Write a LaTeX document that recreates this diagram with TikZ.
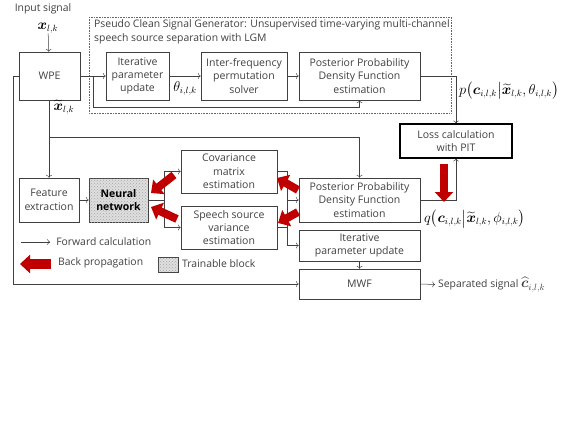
\documentclass[tikz,border=0pt]{standalone}
\usepackage{fontspec}
\setmainfont{Open Sans}
\usepackage{amsmath,bm}
\usetikzlibrary{calc,arrows.meta,patterns}
\definecolor{bp-red}{RGB}{192,0,0}
\definecolor{box-gray}{RGB}{64,64,64}
\tikzset{
  blk/.style={draw=box-gray, line width=0.6pt, text=box-gray, align=center, inner sep=1pt,
    font=\fontsize{10.5}{13.4}\selectfont},
  fwd/.style={->, draw=box-gray, line width=0.5pt},
  bp/.style={draw=bp-red, line width=8pt, -{Triangle[length=10pt 0, width=18pt 0]}},
  lbl/.style={font=\fontsize{13.5}{15}\selectfont, inner sep=0pt},
  txt/.style={text=box-gray, inner sep=0pt, font=\fontsize{10.4}{13.4}\selectfont},
  trainable/.style={fill=gray!25, postaction={pattern=crosshatch dots, pattern color=gray!70}}
}
\begin{document}
\begin{tikzpicture}[x=1pt,y=-1pt]
\useasboundingbox (0,0) rectangle (576,428);
% frame of the pseudo clean signal generator
\draw [gray!80!black, densely dotted, line width=0.6pt] (89,17) rectangle (451,113);
\node [txt, anchor=north west, align=left] (gen) at (94,19.5) {Pseudo Clean Signal Generator: Unsupervised time-varying multi-channel\\speech source separation with LGM};
% blocks
\node [txt] (insig) at (43,9) {Input signal};
\node [lbl] (xin) at (48,28) {$\bm{x}_{l,k}$};
\node [blk, minimum width=61pt, minimum height=48pt] (wpe) at (49.5,76) {WPE};
\node [blk, minimum width=63pt, minimum height=48pt] (iter1) at (137.5,76) {Iterative\\parameter\\update};
\node [blk, minimum width=86pt, minimum height=48pt] (inter) at (244,76) {Inter-frequency\\permutation\\solver};
\node [blk, minimum width=121pt, minimum height=48pt] (post1) at (359.5,76) {Posterior Probability\\Density Function\\estimation};
\node [blk, draw=black, line width=1.3pt, minimum width=112pt, minimum height=34pt] (loss) at (456,141) {Loss calculation\\with PIT};
\node [blk, minimum width=60pt, minimum height=44pt] (feat) at (49,200) {Feature\\extraction};
\node [blk, trainable, text=black, minimum width=59pt, minimum height=44pt, font=\fontsize{10.5}{13.4}\selectfont\bfseries] (nn) at (118.5,200) {Neural\\network};
\node [blk, minimum width=96pt, minimum height=43pt] (cov) at (229,171.5) {Covariance\\matrix\\estimation};
\node [blk, minimum width=96pt, minimum height=43pt] (spv) at (229,227.5) {Speech source\\variance\\estimation};
\node [blk, minimum width=121pt, minimum height=44pt] (post2) at (359.5,200) {Posterior Probability\\Density Function\\estimation};
\node [blk, minimum width=121pt, minimum height=31pt] (iter2) at (359.5,245.5) {Iterative\\parameter update};
\node [blk, minimum width=121pt, minimum height=30pt] (mwf) at (359.5,284) {MWF};
\node [txt, anchor=west, inner xsep=3pt] (sep) at (435,284.5) {Separated signal \fontsize{13.5}{15}\selectfont$\widehat{\bm{c}}_{i,l,k}$};
% labels
\node [lbl] (theta) at (185,88) {$\theta_{i,l,k}$};
\node [lbl] (xt) at (64,107) {$\widetilde{\bm{x}}_{l,k}$};
\node [lbl, anchor=west] (plab) at (459,91) {$p\bigl(\bm{c}_{i,l,k}\big|\widetilde{\bm{x}}_{l,k},\theta_{i,l,k}\bigr)$};
\node [lbl, anchor=west] (qlab) at (424,219) {$q\bigl(\bm{c}_{i,l,k}\big|\widetilde{\bm{x}}_{l,k},\phi_{i,l,k}\bigr)$};
% forward connections
\coordinate (b1) at (93,76);
\coordinate (b2) at (49,137);
\coordinate (b3) at (164,200);
\coordinate (b4) at (287,200);
\draw [fwd] (xin) -- (wpe);
\draw [fwd] (wpe) -- (iter1);
\draw [fwd] (iter1) -- (inter);
\draw [fwd] (inter) -- (post1);
\draw [fwd] (b1) -- ++(0,31) -| (post1.south);
\draw [fwd] (post1.east) -| (loss.north);
\draw [fwd] (wpe.south -| feat.north) -- (feat.north);
\draw [fwd] (b2) -| (post2.north);
\draw [fwd] (wpe.west) -- ++(-5,0) |- (mwf.west);
\draw [fwd] (feat) -- (nn);
\draw [draw=box-gray, line width=0.5pt] (nn.east) -- (b3);
\draw [fwd] (b3) |- (cov.west);
\draw [fwd] (b3) |- (spv.west);
\draw [fwd] (cov.east) -- ++(10,0) |- (iter2.west);
\draw [draw=box-gray, line width=0.5pt] (spv.east) -- ++(10,0);
\draw [fwd] (b4) -- (post2.west);
\draw [fwd] (iter2) -- (mwf);
\draw [fwd] (mwf.east) -- (sep.west);
\draw [fwd] (post2.east) -| (loss.south);
% back propagation
\draw [bp] (444,164) -- (444,202);
\draw [bp] (298,190) -- (277,178);
\draw [bp] (298,212) -- (278,223);
\draw [bp] (174,175) -- (151,193);
\draw [bp] (177,219) -- (151,207);
% legend
\coordinate (lg1) at (21,242);
\draw [fwd] (lg1) -- ++(29,0) node [txt, anchor=west, xshift=6pt] (lgfwd) {Forward calculation};
\draw [bp, line width=10pt] (51,264) -- (20,264);
\node [txt, anchor=west] (lgbp) at (58,263) {Back propagation};
\node [draw=box-gray, line width=0.6pt, trainable, minimum width=20pt, minimum height=15pt, inner sep=0pt] (lgtr) at (168,264.5) {};
\node [txt, anchor=west] (lgtrt) at (182,264) {Trainable block};
\end{tikzpicture}
\end{document}
